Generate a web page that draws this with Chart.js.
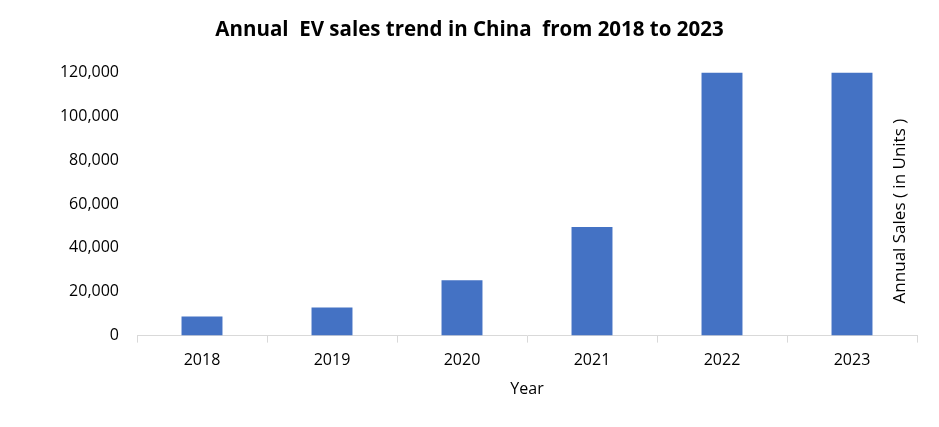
<!DOCTYPE html>
<html>
<head>
<meta charset="utf-8">
<script src="https://cdn.jsdelivr.net/npm/chart.js@4"></script>
<style>
  html, body { margin: 0; padding: 0; background: #ffffff; }
  #wrap { width: 939px; height: 427px; }
</style>
</head>
<body>
<div id="wrap"><canvas id="evChart"></canvas></div>
<script>
const years = ['2018', '2019', '2020', '2021', '2022', '2023']
const sales = [8700, 12800, 25200, 49600, 120000, 120000]
const yTicks = [0, 20000, 40000, 60000, 80000, 100000, 120000]

const font_name = "'Open Sans', 'Noto Sans', sans-serif"

// right-hand axis caption sits inside the plot, like the original
const sideTitle = {
  id: 'sideTitle',
  afterDraw(chart) {
    const { ctx, chartArea } = chart
    ctx.save()
    ctx.translate(chartArea.right - 17, (chartArea.top + chartArea.bottom) / 2 + 7)
    ctx.rotate(-Math.PI / 2)
    ctx.font = `17px ${font_name}`
    ctx.fillStyle = '#000000'
    ctx.textAlign = 'center'
    ctx.textBaseline = 'middle'
    ctx.fillText('Annual Sales ( in Units )', 0, 0)
    ctx.restore()
  }
}

const ctx = document.getElementById('evChart').getContext('2d')

let plugin_chart = {
  legend: { display: false },
  tooltip: { enabled: false },
  title: {
    display: true,
    text: 'Annual  EV sales trend in China  from 2018 to 2023',
    color: '#000000',
    font: { family: font_name, size: 20.5, weight: 'bold' },
    padding: { top: 18, bottom: 30 }
  }
}

let scales_chart = {
  x: {
    offset: true,
    grid: {
      display: true,
      offset: true,
      drawOnChartArea: false,
      drawTicks: true,
      tickLength: 7,
      color: '#d9d9d9'
    },
    border: { display: true, color: '#d9d9d9', width: 1 },
    ticks: {
      color: '#000000',
      font: { family: font_name, size: 16 },
      padding: 8
    },
    title: {
      display: true,
      text: 'Year',
      color: '#000000',
      font: { family: font_name, size: 16 },
      padding: { top: 2 }
    }
  },
  y: {
    min: 0,
    max: 120000,
    afterBuildTicks: (scale) => {
      scale.ticks = yTicks.map(v => ({ value: v }))
    },
    afterFit: (scale) => { scale.width = 115 },
    grid: { display: false },
    border: { display: false },
    ticks: {
      color: '#000000',
      font: { family: font_name, size: 16 },
      padding: 10,
      callback: function(value) {
        return value.toLocaleString('en-US')
      }
    }
  }
}

new Chart(ctx, {
  type: 'bar',
  data: {
    labels: years,
    datasets: [{
      label: 'Annual Sales',
      data: sales,
      backgroundColor: '#4472c4',
      categoryPercentage: 1.0,
      barPercentage: 0.315
    }]
  },
  options: {
    responsive: true,
    maintainAspectRatio: false,
    animation: false,
    layout: { padding: { left: 22, right: 22, bottom: 24 } },
    plugins: plugin_chart,
    scales: scales_chart
  },
  plugins: [sideTitle]
})
</script>
</body>
</html>
